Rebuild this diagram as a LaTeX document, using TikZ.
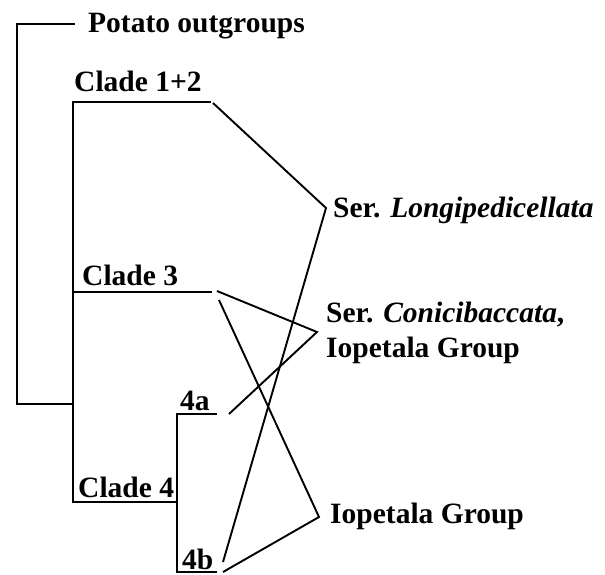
\documentclass[tikz,border=0pt]{standalone}
\usepackage{fontspec}
\setmainfont{Liberation Serif}
\begin{document}
\begin{tikzpicture}[x=1pt,y=-1pt,
  branch/.style={line width=2pt,line cap=rect,join=miter},
  link/.style={line width=1.9pt,line cap=butt},
  lab/.style={inner sep=0pt,anchor=base west,text depth=0pt,font=\fontsize{29.5}{34}\selectfont\bfseries}]
\useasboundingbox (0,0) rectangle (605,574);

% taxon labels
\node[lab] (outg) at (88,32) {Potato outgroups};
\node[lab] (c12lab) at (74,91) {Clade 1+2};
\node[lab] (c3lab) at (82,285) {Clade 3};
\node[lab] (c4lab) at (78,497) {Clade 4};
\node[lab] (alab) at (180,410) {4a};
\node[lab] (blab) at (182,569) {4b};

% group labels
\node[lab] (longi) at (333,217) {Ser. \textit{Longipedicellata}};
\node[lab] (conic) at (326,322) {Ser. \textit{Conicibaccata},};
\node[lab] (conic2) at (326,357) {Iopetala Group};
\node[lab] (iopet) at (330,523) {Iopetala Group};

% tree coordinates
\coordinate (rootTop) at (17,24);
\coordinate (rootBot) at (17,404);
\coordinate (outgEnd) at (74,24);
\coordinate (inTop) at (73,102);
\coordinate (inMid) at (73,292);
\coordinate (inRoot) at (73,404);
\coordinate (inBot) at (73,502);
\coordinate (c12) at (210,102);
\coordinate (c3) at (211,292);
\coordinate (c4) at (177,502);
\coordinate (fTop) at (177,414);
\coordinate (fBot) at (177,572);
\coordinate (a4) at (216,414);
\coordinate (b4) at (216,572);

% tree
\draw[branch] (outgEnd) -- (rootTop) -- (rootBot) -- (inRoot);
\draw[branch] (c12) -- (inTop) -- (inBot) -- (c4);
\draw[branch] (inMid) -- (c3);
\draw[branch] (a4) -- (fTop) -- (fBot) -- (b4);

% links to groups
\coordinate (vL) at (326,208);
\coordinate (vC) at (317,332);
\coordinate (vI) at (319,517);
\coordinate (t12) at (213,103);
\coordinate (t3a) at (217,291);
\coordinate (t3b) at (219,300);
\coordinate (t4a) at (229,414);
\coordinate (t4b1) at (223,562);
\coordinate (t4b2) at (223,572);

\draw[link] (t12) -- (vL) -- (t4b1);
\draw[link] (t3a) -- (vC) -- (t4a);
\draw[link] (t3b) -- (vI) -- (t4b2);
\end{tikzpicture}
\end{document}
